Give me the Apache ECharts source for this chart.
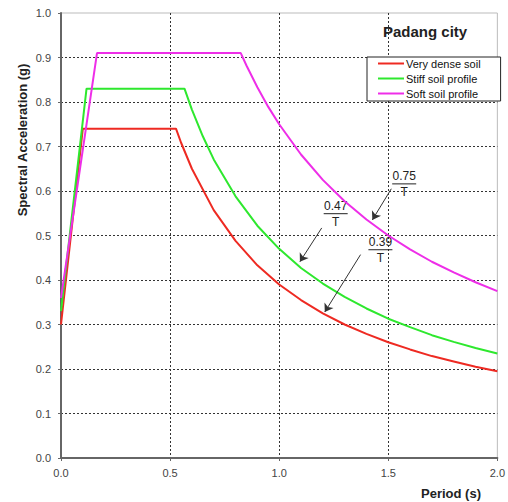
<!DOCTYPE html>
<html>
<head>
<meta charset="utf-8">
<script src="https://cdn.jsdelivr.net/npm/echarts@6/dist/echarts.min.js"></script>
<style>
html,body{margin:0;padding:0;background:#fff;}
#c{width:508px;height:502px;}
</style>
</head>
<body>
<div id="c"></div>
<script>
// ---- data ----
const seriesNames = ['Very dense soil', 'Stiff soil profile', 'Soft soil profile'];
const xTicks = [0, 0.5, 1.0, 1.5, 2.0];
const yTicks = [0, 0.1, 0.2, 0.3, 0.4, 0.5, 0.6, 0.7, 0.8, 0.9, 1.0];

const veryDenseT = [0, 0.10, 0.527, 0.55, 0.6, 0.7, 0.8, 0.9, 1.0, 1.1, 1.2, 1.3, 1.4, 1.5, 1.6, 1.7, 1.8, 1.9, 2.0];
const veryDenseSa = [0.30, 0.74, 0.74, 0.709, 0.65, 0.557, 0.488, 0.433, 0.39, 0.355, 0.325, 0.30, 0.279, 0.26, 0.244, 0.229, 0.217, 0.205, 0.195];

const stiffT = [0, 0.117, 0.566, 0.6, 0.65, 0.7, 0.8, 0.9, 1.0, 1.1, 1.2, 1.3, 1.4, 1.5, 1.6, 1.7, 1.8, 1.9, 2.0];
const stiffSa = [0.33, 0.83, 0.83, 0.783, 0.723, 0.671, 0.588, 0.522, 0.47, 0.427, 0.392, 0.362, 0.336, 0.313, 0.294, 0.276, 0.261, 0.247, 0.235];

const softT = [0, 0.165, 0.824, 0.85, 0.9, 0.95, 1.0, 1.1, 1.2, 1.3, 1.4, 1.5, 1.6, 1.7, 1.8, 1.9, 2.0];
const softSa = [0.36, 0.91, 0.91, 0.882, 0.833, 0.789, 0.75, 0.682, 0.625, 0.577, 0.536, 0.50, 0.469, 0.441, 0.417, 0.395, 0.375];

const fractionLabels = ['0.39', '0.47', '0.75'];
const denominatorLabel = 'T';
// ---- annotation placement (data coordinates) ----
const annoPlace = [
  {label: 0, at: [1.464, 0.468], from: [1.373, 0.457], to: [1.209, 0.328]},
  {label: 1, at: [1.259, 0.549], from: [1.195, 0.517], to: [1.095, 0.441]},
  {label: 2, at: [1.573, 0.616], from: [1.514, 0.605], to: [1.427, 0.535]}
];

const colors = ['#ee2a22', '#2ee82e', '#ee2ee8'];
const FONT = "'Liberation Sans', Arial, sans-serif";

function zip(a, b) { return a.map((v, i) => [v, b[i]]); }

const chart = echarts.init(document.getElementById('c'), null, {renderer: 'svg'});

const lineSeries = [
  zip(veryDenseT, veryDenseSa),
  zip(stiffT, stiffSa),
  zip(softT, softSa)
].map((d, i) => ({
  name: seriesNames[i],
  type: 'line',
  data: d,
  symbol: 'none',
  smooth: false,
  lineStyle: {color: colors[i], width: 2},
  itemStyle: {color: colors[i]},
  z: 3,
  animation: false
}));

// arrows as markLine on an extra empty series
lineSeries.push({
  type: 'line',
  data: [],
  silent: true,
  z: 4,
  markLine: {
    silent: true,
    animation: false,
    symbol: ['none', 'arrow'],
    symbolSize: 8,
    label: {show: false},
    lineStyle: {color: '#333', width: 1, type: 'solid'},
    itemStyle: {color: '#333'},
    data: annoPlace.map(a => [{coord: a.from}, {coord: a.to}])
  }
});

chart.setOption({
  animation: false,
  backgroundColor: '#fff',
  grid: {left: 61, right: 7, top: 13, bottom: 44, show: true, borderColor: '#bbb', borderWidth: 1, containLabel: false},
  title: {
    text: 'Padang city', left: 378, top: 19,
    textStyle: {fontFamily: FONT, fontSize: 15, fontWeight: 'bold', color: '#222'}
  },
  legend: {
    orient: 'vertical', left: 367, top: 57,
    data: seriesNames,
    itemWidth: 26, itemHeight: 12, itemGap: 4,
    padding: [1, 20, 2, 11],
    backgroundColor: '#fff',
    borderColor: '#222', borderWidth: 1, borderRadius: 0,
    textStyle: {fontFamily: FONT, fontSize: 11, color: '#111', padding: [0, 0, 0, -3]},
    icon: 'path://M0,5 L26,5 L26,7 L0,7 Z'
  },
  xAxis: {
    type: 'value', min: 0, max: 2, interval: 0.5,
    axisLine: {show: true, onZero: false, lineStyle: {color: '#666', width: 2}},
    axisTick: {show: true, length: 3, inside: false, lineStyle: {color: '#666', width: 1}},
    axisLabel: {margin: 9, fontFamily: FONT, fontSize: 11, color: '#444', formatter: v => v.toFixed(1)},
    splitLine: {show: true, lineStyle: {color: ['transparent', '#333', '#333', '#333', 'transparent'], width: 1, type: [2, 2]}}
  },
  yAxis: {
    type: 'value', min: 0, max: 1, interval: 0.1,
    axisLine: {show: true, onZero: false, lineStyle: {color: '#666', width: 2}},
    axisTick: {show: true, length: 3, inside: false, lineStyle: {color: '#666', width: 1}},
    axisLabel: {margin: 10, fontFamily: FONT, fontSize: 11, color: '#444', formatter: v => v.toFixed(1)},
    splitLine: {show: true, lineStyle: {color: ['transparent', '#333', '#333', '#333', '#333', '#333', '#333', '#333', '#333', '#333', 'transparent'], width: 1, type: [2, 2]}}
  },
  series: lineSeries
});

// annotations and axis titles as graphic text
const g = [];
annoPlace.forEach(a => {
  const p = chart.convertToPixel({gridIndex: 0}, a.at);
  g.push({type: 'text', x: p[0], y: p[1] - 8, silent: true,
    style: {text: fractionLabels[a.label], font: '12px ' + FONT, fill: '#222', textAlign: 'center', textVerticalAlign: 'middle'}});
  g.push({type: 'line', silent: true, shape: {x1: p[0] - 12, y1: p[1], x2: p[0] + 12, y2: p[1]}, style: {stroke: '#222', lineWidth: 1}});
  g.push({type: 'text', x: p[0], y: p[1] + 8, silent: true,
    style: {text: denominatorLabel, font: '12px ' + FONT, fill: '#222', textAlign: 'center', textVerticalAlign: 'middle'}});
});
g.push({type: 'text', x: 22, y: 140, rotation: Math.PI / 2, silent: true,
  style: {text: 'Spectral Acceleration (g)', font: 'bold 13px ' + FONT, fill: '#222', textAlign: 'center', textVerticalAlign: 'middle'}});
g.push({type: 'text', x: 451, y: 493, silent: true,
  style: {text: 'Period (s)', font: 'bold 13px ' + FONT, fill: '#222', textAlign: 'center', textVerticalAlign: 'middle'}});
chart.setOption({graphic: g});
</script>
</body>
</html>
